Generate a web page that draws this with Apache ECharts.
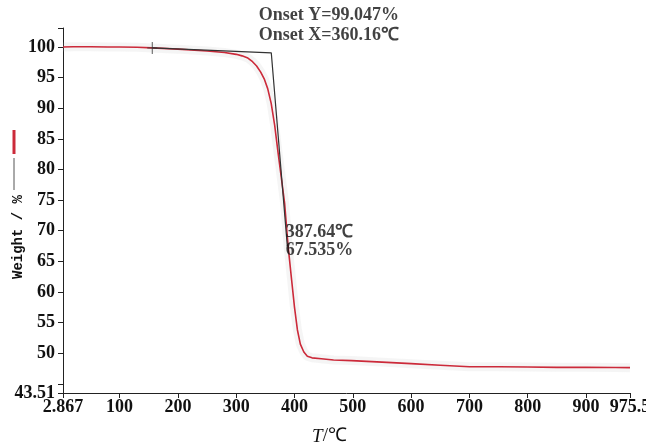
<!DOCTYPE html>
<html lang="en">
<head>
    <meta charset="UTF-8">
    <title>TGA</title>
    <script src="https://cdn.jsdelivr.net/npm/echarts@6/dist/echarts.min.js"></script>
    <style>
        *{ margin:0; padding:0; }
        #main{ width:646px; height:448px; background:#fff; }
    </style>
</head>
<body>
<div id="main"></div>
<script>
    // 温度 / 失重曲线
    var temps   = [2.867, 20, 50, 80, 100, 130, 156, 200, 250, 280, 300, 310, 320, 328, 335, 342, 348, 354, 360, 366, 372, 378, 383, 389, 395, 400, 405, 410, 416, 422, 430, 446, 467, 498, 550, 600, 650, 700, 750, 800, 850, 900, 950, 975.5];
    var weights = [100.0, 100.05, 100.05, 100.0, 100.0, 99.95, 99.85, 99.65, 99.35, 99.1, 98.8, 98.55, 98.2, 97.6, 96.9, 95.9, 94.8, 93.2, 90.8, 87.2, 82.6, 78.2, 74.5, 67.5, 62.0, 57.5, 53.8, 51.5, 50.2, 49.5, 49.25, 49.1, 48.9, 48.8, 48.55, 48.3, 48.05, 47.8, 47.8, 47.75, 47.7, 47.7, 47.68, 47.65];

    // 切线 (onset)
    var tangentT = [156, 360.16, 387.64];
    var tangentW = [99.85, 99.047, 67.535];
    var onsetX = 360.16, onsetY = 99.047;
    var midT = 387.64, midW = 67.535;

    // 刻度
    var xTicks = [2.867, 100, 200, 300, 400, 500, 600, 700, 800, 900, 975.5];
    var yLabels = [43.51, 50, 55, 60, 65, 70, 75, 80, 85, 90, 95, 100];
    var yTicks = [43.51, 45, 50, 55, 60, 65, 70, 75, 80, 85, 90, 95, 100, 103.1];

    var curve = temps.map(function (t, i) { return [t, weights[i]]; });
    var tangent = tangentT.map(function (t, i) { return [t, tangentW[i]]; });

    var font = { fontFamily: 'Liberation Serif', fontWeight: 'bold', fontSize: 18, color: '#111' };

    var chart = echarts.init(document.getElementById('main'));
    var option = {
        animation: false,
        grid: { left: 63, right: 16, top: 28, bottom: 55, containLabel: false, outerBoundsMode: 'none' },
        xAxis: {
            type: 'value',
            min: 2.867,
            max: 975.5,
            name: '{i|T}/℃',
            nameLocation: 'middle',
            nameGap: 34,
            nameTextStyle: {
                fontFamily: 'Liberation Serif', fontSize: 19, color: '#111',
                padding: [0, 34, 0, 0],
                rich: { i: { fontFamily: 'Liberation Serif', fontStyle: 'italic', fontSize: 19, color: '#111' } }
            },
            splitLine: { show: false },
            axisLine: { lineStyle: { color: '#222', width: 1 } },
            axisTick: { length: 5, lineStyle: { color: '#222' }, customValues: xTicks },
            axisLabel: Object.assign({ margin: 5, customValues: xTicks, showMinLabel: true, showMaxLabel: true }, font)
        },
        yAxis: {
            type: 'value',
            min: 43.51,
            max: 103.1,
            splitLine: { show: false },
            axisLine: { lineStyle: { color: '#222', width: 1 } },
            axisTick: { length: 5, lineStyle: { color: '#222' }, customValues: yTicks },
            axisLabel: Object.assign({ margin: 8, customValues: yLabels }, font)
        },
        // 纵轴标题和图例色块
        graphic: [
            {
                type: 'text', x: 18, y: 237, rotation: Math.PI / 2,
                style: { text: 'Weight / %', fontFamily: 'Liberation Mono', fontWeight: 'bold', fontSize: 14, fill: '#111', align: 'center', verticalAlign: 'middle' }
            },
            { type: 'line', shape: { x1: 14, y1: 130, x2: 14, y2: 154 }, style: { stroke: '#cc2a3a', lineWidth: 3 } },
            { type: 'line', shape: { x1: 14, y1: 158, x2: 14, y2: 190 }, style: { stroke: '#555', lineWidth: 1 } }
        ],
        series: [
            {
                name: 'halo',
                type: 'line',
                data: curve,
                symbol: 'none',
                silent: true,
                lineStyle: { color: 'rgba(190,190,190,0.15)', width: 9 },
                z: 1
            },
            {
                name: 'tangent',
                type: 'line',
                data: tangent,
                symbol: 'none',
                lineStyle: { color: '#333', width: 1.2 },
                z: 3
            },
            {
                name: 'weight',
                type: 'line',
                data: curve,
                symbol: 'none',
                lineStyle: { color: '#cc2a3a', width: 1.6 },
                z: 2
            },
            {
                name: 'marks',
                type: 'scatter',
                z: 4,
                data: [
                    {
                        value: [tangentT[0], tangentW[0]],
                        symbol: 'path://M-0.5,-6h1v12h-1z M-5,-0.5h10v1h-10z',
                        symbolSize: [10, 12],
                        itemStyle: { color: '#333' }
                    },
                    {
                        value: [onsetX, onsetY],
                        symbolSize: 1,
                        itemStyle: { color: 'transparent' },
                        label: Object.assign({
                            show: true,
                            position: [-12, -47],
                            align: 'left',
                            verticalAlign: 'top',
                            lineHeight: 20,
                            formatter: 'Onset Y=' + onsetY + '%\nOnset X=' + onsetX + '℃'
                        }, font)
                    },
                    {
                        value: [midT, midW],
                        symbolSize: 1,
                        itemStyle: { color: 'transparent' },
                        label: Object.assign({
                            show: true,
                            position: [-1, -22],
                            align: 'left',
                            verticalAlign: 'top',
                            lineHeight: 18,
                            formatter: midT + '℃\n' + midW + '%'
                        }, font)
                    }
                ]
            }
        ]
    };
    chart.setOption(option);
</script>
</body>
</html>
